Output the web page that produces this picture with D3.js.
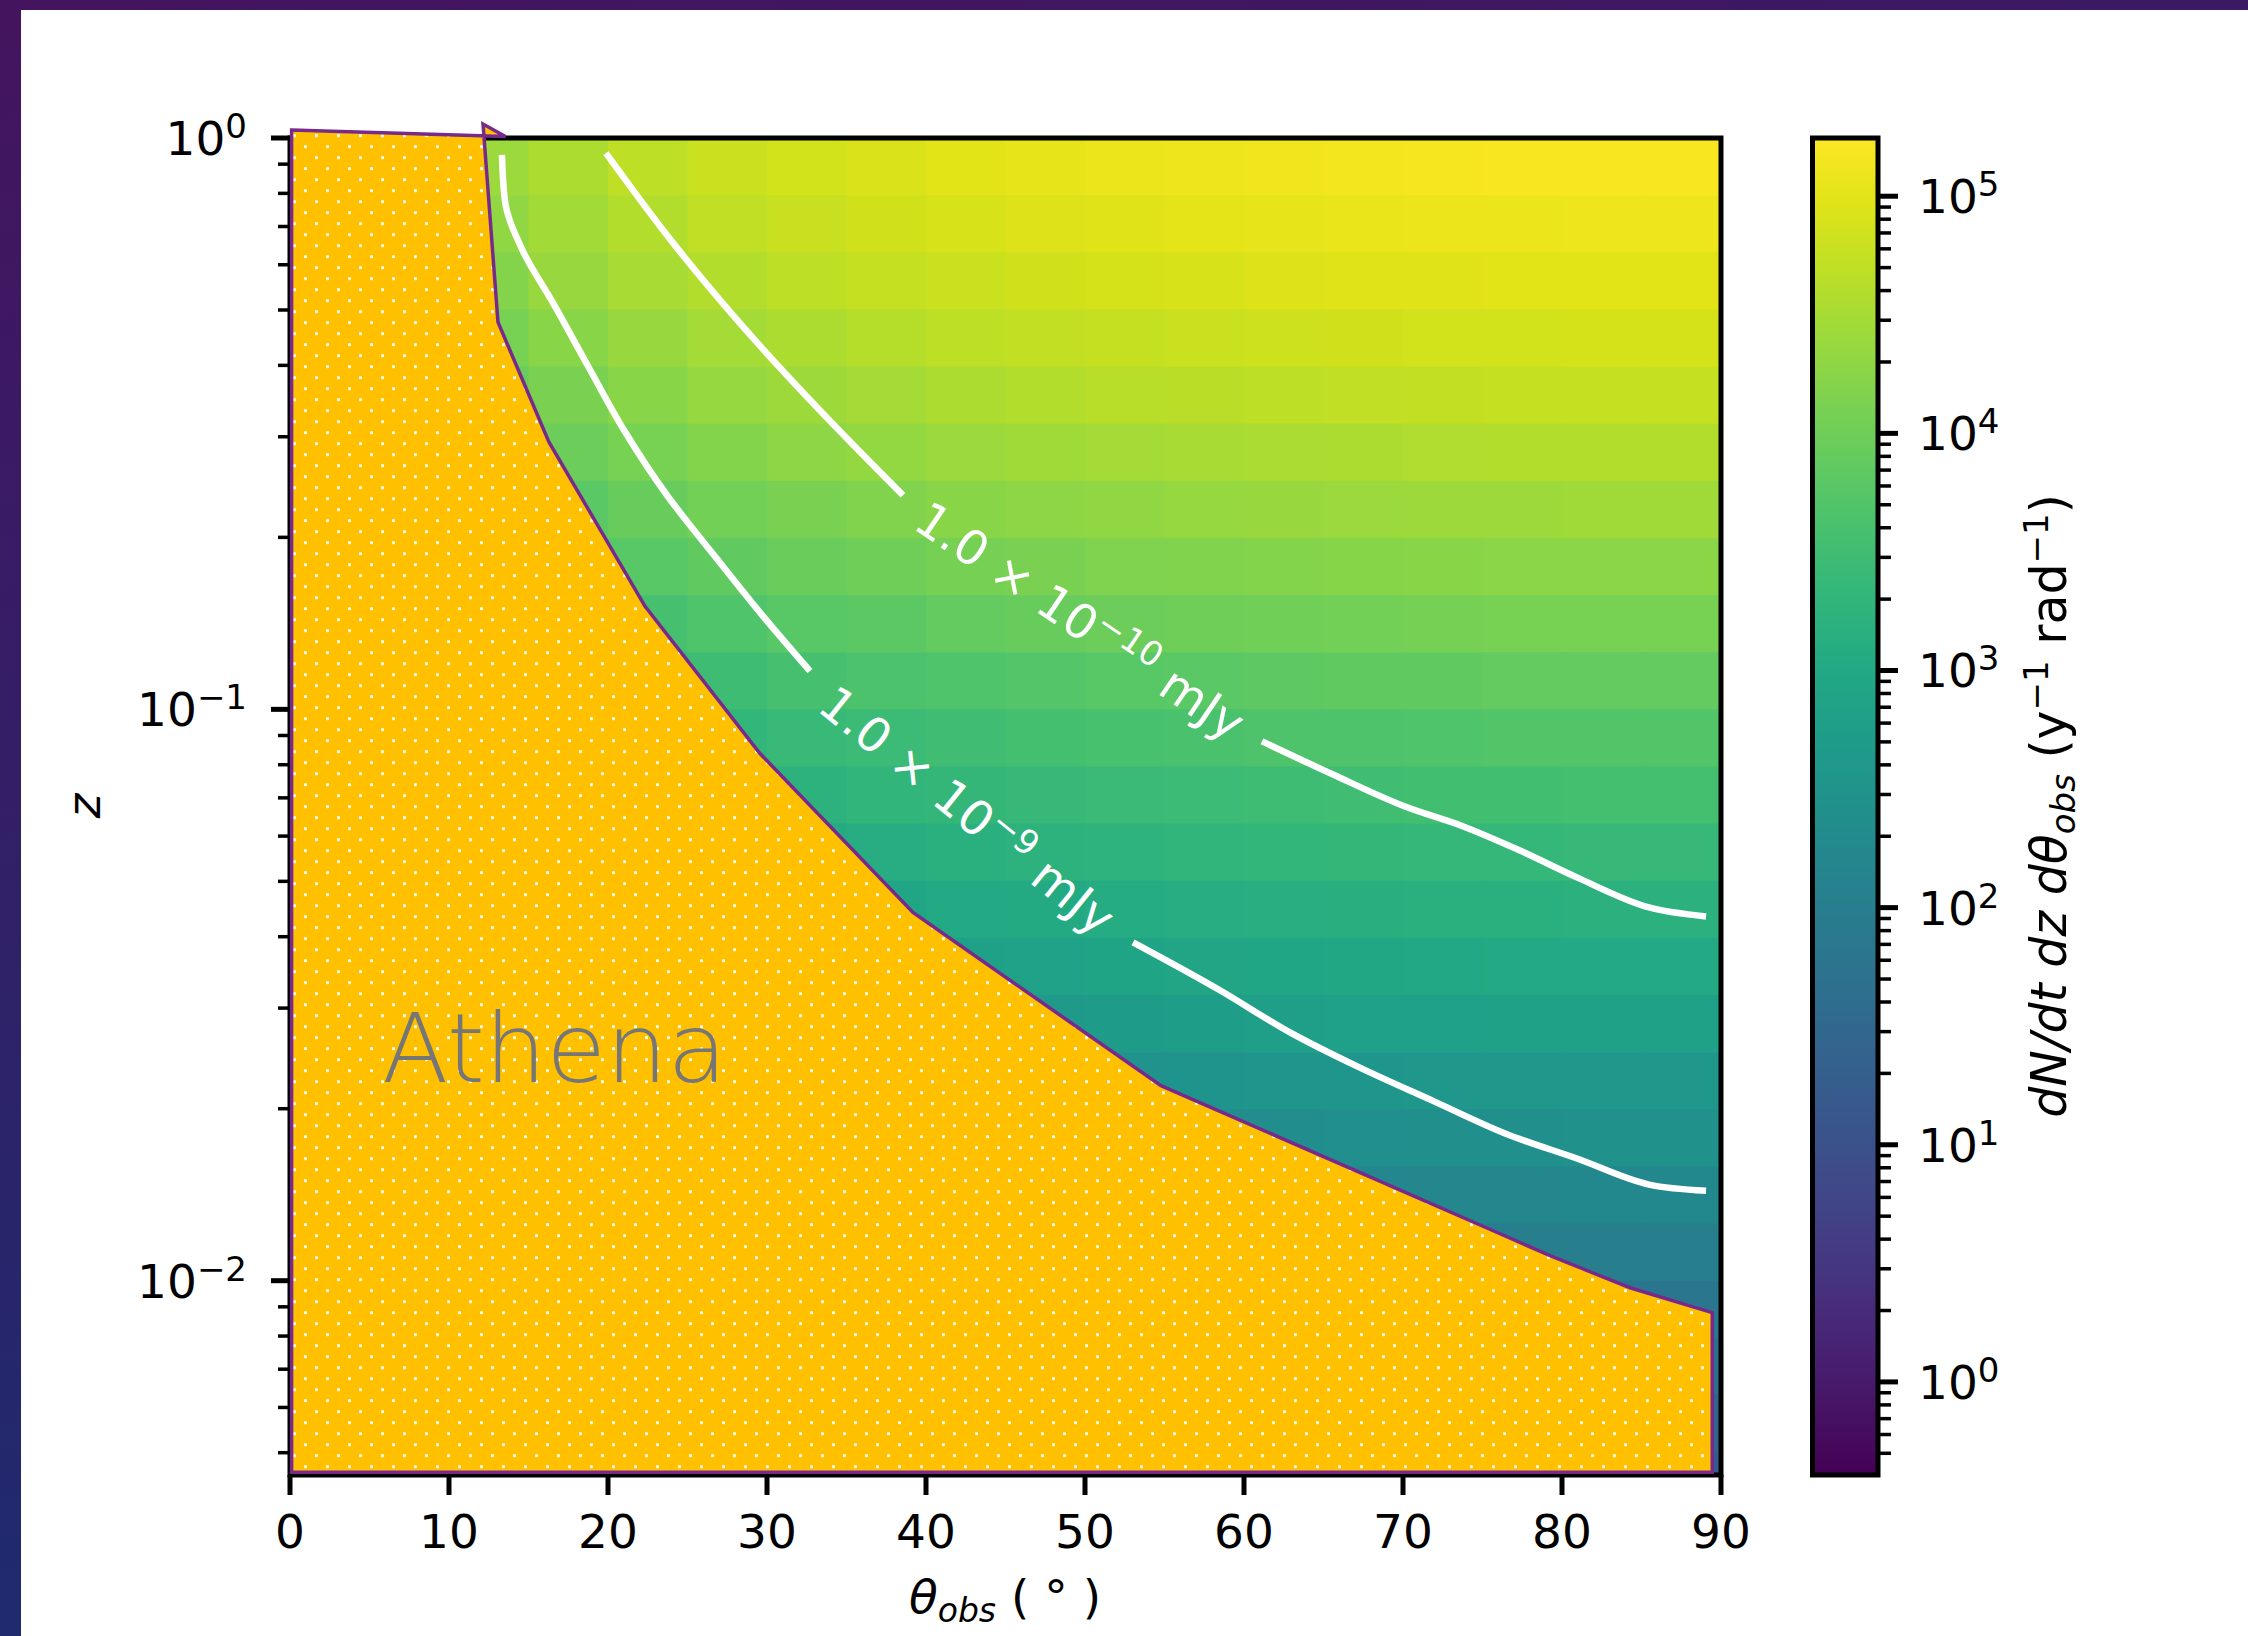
<!DOCTYPE html>
<html>
<head>
<meta charset="utf-8">
<script src="https://cdn.jsdelivr.net/npm/d3@7"></script>
<style>
html, body { margin: 0; padding: 0; background: #ffffff; }
svg { display: block; }
text { font-family: "DejaVu Sans", sans-serif; }
</style>
</head>
<body>
<svg id="chart" width="2248" height="1636"></svg>
<script>
// ---------------- DATA ----------------
// observing angle bin edges (deg)
const thetaEdges = [0,5,10,15,20,25,30,35,40,45,50,55,60,65,70,75,80,85,90];
// log10(z) bin edges (top -> bottom)
const logZEdges = [0,-0.1,-0.2,-0.3,-0.4,-0.5,-0.6,-0.7,-0.8,-0.9,-1.0,-1.1,-1.2,-1.3,-1.4,-1.5,-1.6,-1.7,-1.8,-1.9,-2.0,-2.1,-2.2,-2.3,-2.4];
// log10 of dN/dt dz dθ (y^-1 rad^-1); null = masked (under the Athena region)
const N = null;
const logRate = [
  [N,N,4.39,4.56,4.69,4.79,4.87,4.93,4.99,5.03,5.07,5.10,5.13,5.15,5.17,5.18,5.19,5.19],
  [N,N,4.30,4.47,4.60,4.70,4.78,4.84,4.90,4.94,4.98,5.01,5.04,5.06,5.08,5.09,5.10,5.10],
  [N,N,4.20,4.37,4.50,4.60,4.68,4.74,4.80,4.84,4.88,4.91,4.94,4.96,4.98,4.99,5.00,5.00],
  [N,N,4.08,4.25,4.38,4.48,4.56,4.62,4.68,4.72,4.76,4.79,4.82,4.84,4.86,4.87,4.88,4.88],
  [N,N,3.95,4.12,4.25,4.35,4.43,4.49,4.55,4.59,4.63,4.66,4.69,4.71,4.73,4.74,4.75,4.75],
  [N,N,N,3.97,4.10,4.20,4.28,4.34,4.40,4.44,4.48,4.51,4.54,4.56,4.58,4.59,4.60,4.60],
  [N,N,N,3.81,3.94,4.04,4.12,4.18,4.24,4.28,4.32,4.35,4.38,4.40,4.42,4.43,4.44,4.44],
  [N,N,N,3.64,3.77,3.87,3.95,4.01,4.07,4.11,4.15,4.18,4.21,4.23,4.25,4.26,4.27,4.27],
  [N,N,N,N,3.59,3.69,3.77,3.83,3.89,3.93,3.97,4.00,4.03,4.05,4.07,4.08,4.09,4.09],
  [N,N,N,N,3.40,3.50,3.58,3.64,3.70,3.74,3.78,3.81,3.84,3.86,3.88,3.89,3.90,3.90],
  [N,N,N,N,N,3.32,3.40,3.46,3.52,3.56,3.60,3.63,3.66,3.68,3.70,3.71,3.72,3.72],
  [N,N,N,N,N,N,3.23,3.29,3.35,3.39,3.43,3.46,3.49,3.51,3.53,3.54,3.55,3.55],
  [N,N,N,N,N,N,3.06,3.12,3.18,3.22,3.26,3.29,3.32,3.34,3.36,3.37,3.38,3.38],
  [N,N,N,N,N,N,N,2.94,3.00,3.04,3.08,3.11,3.14,3.16,3.18,3.19,3.20,3.20],
  [N,N,N,N,N,N,N,N,2.81,2.85,2.89,2.92,2.95,2.97,2.99,3.00,3.01,3.01],
  [N,N,N,N,N,N,N,N,N,2.66,2.70,2.73,2.76,2.78,2.80,2.81,2.82,2.82],
  [N,N,N,N,N,N,N,N,N,N,2.50,2.53,2.56,2.58,2.60,2.61,2.62,2.62],
  [N,N,N,N,N,N,N,N,N,N,N,2.34,2.37,2.39,2.41,2.42,2.43,2.43],
  [N,N,N,N,N,N,N,N,N,N,N,N,N,2.19,2.21,2.22,2.23,2.23],
  [N,N,N,N,N,N,N,N,N,N,N,N,N,N,2.01,2.02,2.03,2.03],
  [N,N,N,N,N,N,N,N,N,N,N,N,N,N,N,N,1.83,1.83],
  [N,N,N,N,N,N,N,N,N,N,N,N,N,N,N,N,N,1.63],
  [N,N,N,N,N,N,N,N,N,N,N,N,N,N,N,N,N,1.43],
  [N,N,N,N,N,N,N,N,N,N,N,N,N,N,N,N,N,1.23]
];
// flux contours [theta, z], split where the inline label sits
const contour1e10 = [
  [[19.87,0.941],[24.15,0.652],[28.68,0.461],[34.09,0.317],[38.55,0.237]],
  [[61.13,0.0879],[65.60,0.0769],[70.13,0.0676],[73.71,0.0625],[77.36,0.0566],[80.94,0.0508],[85.47,0.0450],[89.06,0.0434]]
];
const contour1e9 = [
  [[13.33,0.934],[13.52,0.776],[14.65,0.634],[16.48,0.518],[18.74,0.399],[21.01,0.308],[23.71,0.237],[26.86,0.1833],[30.0,0.1428],[32.70,0.1167]],
  [[53.02,0.0391],[58.43,0.0323],[62.89,0.0272],[67.42,0.0235],[71.95,0.0206],[76.42,0.0181],[80.94,0.01636],[85.47,0.01473],[89.06,0.01437]]
];
const contourLabels = [
  {mant: "1.0", exp: "\u221210", unit: "mJy", theta: 49.7, z: 0.143, angle: 34},
  {mant: "1.0", exp: "\u22129",  unit: "mJy", theta: 42.6, z: 0.0666, angle: 39}
];
// Athena (non-detectable) region outline [theta, z]
const athenaRegion = [
  [0.1,1.033],[13.55,1.006],[12.14,1.058],[13.08,0.476],[16.29,0.2935],[22.33,0.1515],
  [29.56,0.0837],[39.18,0.0441],[54.78,0.02195],[75.53,0.01228],[79.25,0.01106],
  [84.28,0.00972],[89.45,0.00879],[89.45,0.00462],[0.1,0.00462]
];
const regionLabel = "Athena";
// axes
const xTicks = [0,10,20,30,40,50,60,70,80,90];
const xDomain = [0, 90];
const yDomain = [0.00457, 1];
const yTickExps = [0,-1,-2];
const cbarDomain = [0.405, 1.76e5];
const cbarTickExps = [0,1,2,3,4,5];
const xLabelMain = "\u03B8", xLabelSub = "obs", xLabelUnit = "( \u00B0 )";
const yLabel = "z";

// ---------------- DRAW ----------------
const W = 2248, H = 1636;
const svg = d3.select("#chart");
const defs = svg.append("defs");

// slide background
const bg = defs.append("linearGradient").attr("id","bgGrad")
  .attr("x1","0").attr("y1","0").attr("x2","0.25").attr("y2","1");
bg.append("stop").attr("offset","0").attr("stop-color","#45145f");
bg.append("stop").attr("offset","1").attr("stop-color","#1d2c70");
svg.append("rect").attr("width",W).attr("height",H).attr("fill","url(#bgGrad)");
svg.append("rect").attr("x",21).attr("y",10).attr("width",W-21).attr("height",H-10).attr("fill","#ffffff");

const PL = 290, PR = 1721, PT = 138, PB = 1475;
const x = d3.scaleLinear().domain(xDomain).range([PL, PR]);
const y = d3.scaleLog().domain(yDomain).range([PB, PT]);
const color = d3.scaleSequentialLog(d3.interpolateViridis).domain(cbarDomain);

defs.append("clipPath").attr("id","plotClip").append("rect")
  .attr("x",PL).attr("y",PT).attr("width",PR-PL).attr("height",PB-PT);

// heatmap cells
const cells = [];
logRate.forEach((row,i) => row.forEach((v,j) => { if (v !== null) cells.push({i,j,v}); }));
svg.append("g").attr("clip-path","url(#plotClip)")
  .selectAll("rect").data(cells).join("rect")
  .attr("x", d => x(thetaEdges[d.j]))
  .attr("width", d => x(thetaEdges[d.j+1]) - x(thetaEdges[d.j]) + 0.7)
  .attr("y", d => y(Math.pow(10, logZEdges[d.i])))
  .attr("height", d => y(Math.pow(10, logZEdges[d.i+1])) - y(Math.pow(10, logZEdges[d.i])) + 0.7)
  .attr("fill", d => color(Math.pow(10, d.v)));

// contours: steep pieces interpolated along y, flat pieces along x
const lineY = d3.line().x(d => x(d[0])).y(d => y(d[1])).curve(d3.curveMonotoneY);
const lineX = d3.line().x(d => x(d[0])).y(d => y(d[1])).curve(d3.curveMonotoneX);
const cg = svg.append("g").attr("clip-path","url(#plotClip)");
[contour1e10, contour1e9].forEach(segs => segs.forEach(seg => {
  const a = seg[0], b = seg[seg.length - 1];
  const steep = Math.abs(y(b[1]) - y(a[1])) > Math.abs(x(b[0]) - x(a[0]));
  cg.append("path").attr("d", (steep ? lineY : lineX)(seg)).attr("fill","none")
    .attr("stroke","#ffffff").attr("stroke-width",6.5);
}));
// contour labels
contourLabels.forEach(L => {
  const t = svg.append("text")
    .attr("transform", `translate(${x(L.theta)},${y(L.z)}) rotate(${L.angle})`)
    .attr("text-anchor","middle").attr("fill","#ffffff").attr("font-size",48)
    .attr("dy","0.36em");
  t.append("tspan").text(L.mant + " \u00D7 10");
  t.append("tspan").attr("font-size",34).attr("dy",-18).text(L.exp);
  t.append("tspan").attr("dy",18).text(" " + L.unit);
});

// axes frame (spines)
svg.append("rect").attr("x",PL).attr("y",PT).attr("width",PR-PL).attr("height",PB-PT)
  .attr("fill","none").attr("stroke","#000").attr("stroke-width",5);

// Athena region (drawn above the frame like in the original)
const pat = defs.append("pattern").attr("id","dots").attr("patternUnits","userSpaceOnUse")
  .attr("x",300).attr("y",141.2).attr("width",22).attr("height",22);
pat.append("rect").attr("x",4.1).attr("y",4.1).attr("width",2.8).attr("height",2.8).attr("fill","#ffffff");
pat.append("rect").attr("x",15.1).attr("y",15.1).attr("width",2.8).attr("height",2.8).attr("fill","#ffffff");
const regionLine = d3.line().x(d => x(d[0])).y(d => y(d[1]));
const regionPath = regionLine(athenaRegion) + "Z";
svg.append("path").attr("d", regionPath).attr("fill","#ffc000");
svg.append("path").attr("d", regionPath).attr("fill","url(#dots)")
  .attr("stroke","#782a8c").attr("stroke-width",3.5).attr("stroke-linejoin","miter");
svg.append("text").attr("x",382).attr("y",1082)
  .attr("font-family","Lato, 'Noto Sans', sans-serif").attr("font-weight",300)
  .attr("font-size",97).attr("fill","#767676")
  .attr("textLength",345).attr("lengthAdjust","spacingAndGlyphs").text(regionLabel);

// x ticks
const axG = svg.append("g");
xTicks.forEach(v => {
  axG.append("line").attr("x1",x(v)).attr("x2",x(v)).attr("y1",PB).attr("y2",PB+20)
    .attr("stroke","#000").attr("stroke-width",5);
  axG.append("text").attr("x",x(v)).attr("y",1548).attr("text-anchor","middle")
    .attr("font-size",47).attr("fill","#000").text(String(v));
});
// y ticks (log)
yTickExps.forEach(k => {
  const py = y(Math.pow(10,k));
  axG.append("line").attr("x1",PL-19).attr("x2",PL).attr("y1",py).attr("y2",py)
    .attr("stroke","#000").attr("stroke-width",5);
  const t = axG.append("text").attr("x",247).attr("y",py+17).attr("text-anchor","end")
    .attr("font-size",47).attr("fill","#000");
  t.append("tspan").text("10");
  t.append("tspan").attr("font-size",34).attr("dy",-17).text(k < 0 ? "\u2212" + (-k) : String(k));
});
for (let k = -3; k <= 0; k++) {
  for (let m = 2; m <= 9; m++) {
    const v = m * Math.pow(10,k);
    if (v < yDomain[0] || v > yDomain[1]) continue;
    const py = y(v);
    axG.append("line").attr("x1",PL-12).attr("x2",PL).attr("y1",py).attr("y2",py)
      .attr("stroke","#000").attr("stroke-width",3.5);
  }
}
// axis labels
const xl = svg.append("text").attr("x",1005).attr("y",1613).attr("text-anchor","middle")
  .attr("font-size",47).attr("fill","#000");
xl.append("tspan").attr("font-style","italic").text(xLabelMain);
xl.append("tspan").attr("font-style","italic").attr("font-size",33).attr("dy",9).text(xLabelSub);
xl.append("tspan").attr("dy",-9).text(" " + xLabelUnit);
svg.append("text").attr("transform","translate(100,806) rotate(-90)").attr("text-anchor","middle")
  .attr("font-size",47).attr("font-style","italic").attr("fill","#000").text(yLabel);

// colorbar
const CL = 1812.5, CR = 1878;
const cy = d3.scaleLog().domain(cbarDomain).range([PB, PT]);
const cg2 = defs.append("linearGradient").attr("id","cbarGrad")
  .attr("x1","0").attr("y1","1").attr("x2","0").attr("y2","0");
d3.range(0, 1.0001, 0.05).forEach(t => {
  cg2.append("stop").attr("offset", t).attr("stop-color", d3.interpolateViridis(t));
});
svg.append("rect").attr("x",CL).attr("y",PT).attr("width",CR-CL).attr("height",PB-PT)
  .attr("fill","url(#cbarGrad)").attr("stroke","#000").attr("stroke-width",5);
cbarTickExps.forEach(k => {
  const py = cy(Math.pow(10,k));
  svg.append("line").attr("x1",CR).attr("x2",CR+20).attr("y1",py).attr("y2",py)
    .attr("stroke","#000").attr("stroke-width",5);
  const t = svg.append("text").attr("x",1918).attr("y",py+17).attr("font-size",47).attr("fill","#000");
  t.append("tspan").text("10");
  t.append("tspan").attr("font-size",34).attr("dy",-17).text(String(k));
});
for (let k = -1; k <= 5; k++) {
  for (let m = 2; m <= 9; m++) {
    const v = m * Math.pow(10,k);
    if (v < cbarDomain[0] || v > cbarDomain[1]) continue;
    const py = cy(v);
    svg.append("line").attr("x1",CR).attr("x2",CR+13).attr("y1",py).attr("y2",py)
      .attr("stroke","#000").attr("stroke-width",3.5);
  }
}
// colorbar label
const cl = svg.append("text").attr("transform","translate(2066,806) rotate(-90)")
  .attr("text-anchor","middle").attr("font-size",49).attr("fill","#000");
cl.append("tspan").attr("font-style","italic").text("dN/dt dz d\u03B8");
cl.append("tspan").attr("font-style","italic").attr("font-size",34).attr("dy",9).text("obs");
cl.append("tspan").attr("dy",-9).text(" (y");
cl.append("tspan").attr("font-size",34).attr("dy",-18).text("\u22121");
cl.append("tspan").attr("dy",18).text(" rad");
cl.append("tspan").attr("font-size",34).attr("dy",-18).text("\u22121");
cl.append("tspan").attr("dy",18).text(")");
</script>
</body>
</html>
